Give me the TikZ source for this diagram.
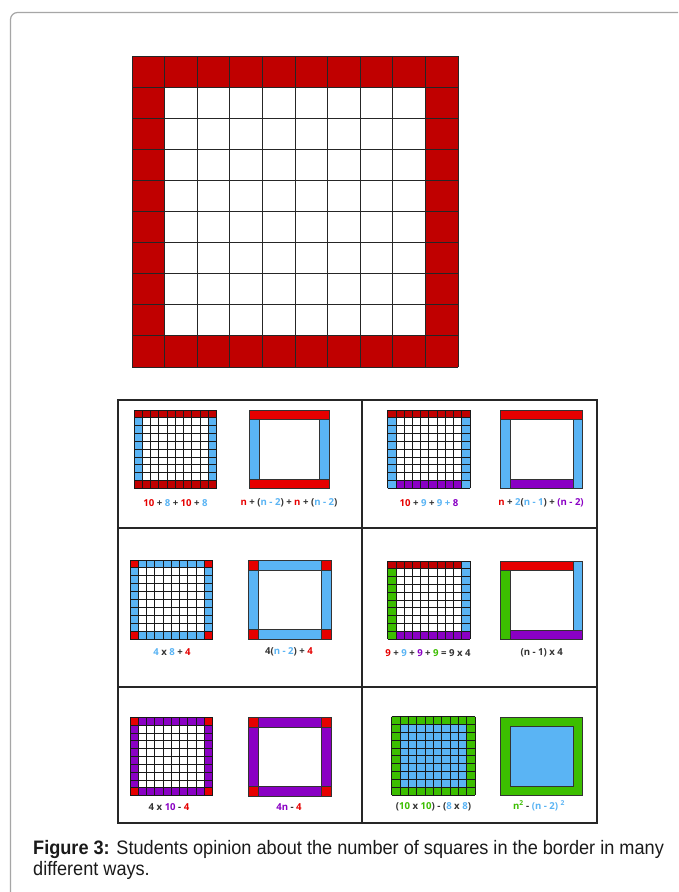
\documentclass[tikz,border=0pt]{standalone}
\usepackage{fontspec}
\setmainfont{Liberation Sans}
\newfontfamily\capfont[FakeStretch=0.93]{Liberation Sans}
\newfontfamily\lblfont{Open Sans}
\definecolor{dred}{HTML}{C00000}
\definecolor{bred}{HTML}{E60000}
\definecolor{lblue}{HTML}{5AB4F4}
\definecolor{purp}{HTML}{8A00C4}
\definecolor{grn}{HTML}{3CBE00}
\definecolor{txt}{HTML}{333333}
\definecolor{capc}{HTML}{1A1A1A}
\newcommand\cR[1]{\textcolor{bred}{#1}}
\newcommand\cB[1]{\textcolor{lblue}{#1}}
\newcommand\cP[1]{\textcolor{purp}{#1}}
\newcommand\cG[1]{\textcolor{grn}{#1}}
\newcommand\sgrid[5]{%
  \begin{scope}[shift={(#1,#2)}, x=#3pt, y=-#4pt]
    #5
    \foreach \i in {0,...,10}{\draw[sline] (\i,0) -- (\i,10); \draw[sline] (0,\i) -- (10,\i);}
  \end{scope}}
\tikzset{
  gline/.style={draw=black!85, line width=0.9pt},
  sline/.style={draw=black!90, line width=0.85pt},
  tline/.style={draw=black!85, line width=1.6pt},
  sch/.style={draw=black!80, line width=0.8pt},
  lbl/.style={font=\lblfont\bfseries\fontsize{9.6}{11}\selectfont, text=txt, inner sep=0pt},
  captxt/.style={font=\capfont\fontsize{19.5}{22}\selectfont, text=capc, anchor=base west, inner sep=0pt}
}
\begin{document}
\begin{tikzpicture}[x=1pt,y=-1pt]
\clip (0,0) rectangle (678,892);
\fill[white] (0,0) rectangle (678,892);
\draw[black!35, line width=1.2pt, rounded corners=7pt] (10.5,900) -- (10.5,12.5) -- (700,12.5);

% big grid
\begin{scope}[shift={(132,56)}, x=32.6pt, y=-31.1pt]
  \fill[dred] (0,0) rectangle (10,1) (0,9) rectangle (10,10) (0,1) rectangle (1,9) (9,1) rectangle (10,9);
  \foreach \i in {0,...,10}{\draw[gline] (\i,0) -- (\i,10); \draw[gline] (0,\i) -- (10,\i);}
\end{scope}

% table
\draw[tline] (118,400) rectangle (597,823);
\draw[tline] (362,400) -- (362,823);
\draw[tline] (118,528) -- (597,528);
\draw[tline] (118,687) -- (597,687);

% cell 1
\sgrid{134}{410}{8.25}{7.83}{%
  \fill[dred] (0,0) rectangle (10,1) (0,9) rectangle (10,10);
  \fill[lblue] (0,1) rectangle (1,9) (9,1) rectangle (10,9);}
\draw[sch, fill=bred] (249,410) rectangle (329,419);
\draw[sch, fill=bred] (249,479) rectangle (329,488);
\draw[sch, fill=lblue] (249,419) rectangle (259,479);
\draw[sch, fill=lblue] (319,419) rectangle (329,479);
\node[lbl] (l1a) at (175.5,503) {\cR{10} + \cB{8} + \cR{10} + \cB{8}};
\node[lbl] (l1b) at (289,503) {\cR{n} + (\cB{n - 2}) + \cR{n} + (\cB{n - 2})};

% cell 2
\sgrid{387.7}{410}{8.23}{7.83}{%
  \fill[dred] (0,0) rectangle (10,1);
  \fill[lblue] (0,1) rectangle (1,10) (9,1) rectangle (10,10);
  \fill[purp] (1,9) rectangle (9,10);}
\draw[sch, fill=bred] (500.7,410) rectangle (582.7,419);
\draw[sch, fill=lblue] (500.7,419) rectangle (510,488);
\draw[sch, fill=lblue] (573,419) rectangle (582.7,488);
\draw[sch, fill=purp] (510,479) rectangle (573,488);
\node[lbl] (l2a) at (429,503) {\cR{10} + \cB{9} + \cB{9 +} \cP{8}};
\node[lbl] (l2b) at (541,503) {\cR{n} + \cB{2}(\cB{n - 1}) + \cP{(n - 2)}};

% cell 3
\sgrid{130}{560}{8.27}{7.9}{%
  \fill[lblue] (0,0) rectangle (10,1) (0,9) rectangle (10,10) (0,1) rectangle (1,9) (9,1) rectangle (10,9);
  \fill[bred] (0,0) rectangle (1,1) (9,0) rectangle (10,1) (0,9) rectangle (1,10) (9,9) rectangle (10,10);}
\draw[sch, fill=lblue] (258,560) rectangle (321,570);
\draw[sch, fill=lblue] (258,629) rectangle (321,639);
\draw[sch, fill=lblue] (248,570) rectangle (258,629);
\draw[sch, fill=lblue] (321,570) rectangle (331,629);
\draw[sch, fill=bred] (248,560) rectangle (258,570);
\draw[sch, fill=bred] (321,560) rectangle (331,570);
\draw[sch, fill=bred] (248,629) rectangle (258,639);
\draw[sch, fill=bred] (321,629) rectangle (331,639);
\node[lbl] (l3a) at (172,652) {\cB{4} x \cB{8} + \cR{4}};
\node[lbl] (l3b) at (289,652) {4(\cB{n - 2}) + \cR{4}};

% cell 4
\sgrid{387.7}{561}{8.23}{7.8}{%
  \fill[dred] (0,0) rectangle (9,1);
  \fill[lblue] (9,0) rectangle (10,9);
  \fill[purp] (1,9) rectangle (10,10);
  \fill[grn] (0,1) rectangle (1,10);}
\draw[sch, fill=bred] (500.7,561) rectangle (573,570);
\draw[sch, fill=lblue] (573,561) rectangle (582.7,630);
\draw[sch, fill=grn] (500.7,570) rectangle (510,639);
\draw[sch, fill=purp] (510,630) rectangle (582.7,639);
\node[lbl] (l4a) at (428,653) {\cR{9} + \cB{9} + \cP{9} + \cG{9} = 9 x 4};
\node[lbl] (l4b) at (541.7,653) {(n - 1) x 4};

% cell 5
\sgrid{130}{717.3}{8.27}{7.84}{%
  \fill[purp] (0,0) rectangle (10,1) (0,9) rectangle (10,10) (0,1) rectangle (1,9) (9,1) rectangle (10,9);
  \fill[bred] (0,0) rectangle (1,1) (9,0) rectangle (10,1) (0,9) rectangle (1,10) (9,9) rectangle (10,10);}
\draw[sch, fill=purp] (258.3,717.3) rectangle (321,727.3);
\draw[sch, fill=purp] (258.3,786) rectangle (321,796);
\draw[sch, fill=purp] (248.3,727.3) rectangle (258.3,786);
\draw[sch, fill=purp] (321,727.3) rectangle (331,786);
\draw[sch, fill=bred] (248.3,717.3) rectangle (258.3,727.3);
\draw[sch, fill=bred] (321,717.3) rectangle (331,727.3);
\draw[sch, fill=bred] (248.3,786) rectangle (258.3,796);
\draw[sch, fill=bred] (321,786) rectangle (331,796);
\node[lbl] (l5a) at (169,807) {4 x \cP{10} - \cR{4}};
\node[lbl] (l5b) at (289,807) {\cP{4n} - \cR{4}};

% cell 6
\sgrid{391.7}{716.7}{8.33}{7.83}{%
  \fill[grn] (0,0) rectangle (10,10);
  \fill[lblue] (1,1) rectangle (9,9);}
\draw[sch, fill=grn] (500.7,717.3) rectangle (582.7,795.7);
\draw[sch, fill=lblue] (510,726.7) rectangle (573.3,786.7);
\node[lbl] (l6a) at (433.5,807) {(\cG{10} x \cG{10}) - (\cB{8} x \cB{8})};
\node[lbl] (l6b) at (539,806) {\cG{n\textsuperscript{2}} - \cB{(n - 2)} \cB{\textsuperscript{2}}};

% caption
\node[captxt] (cap1) at (33,854) {\textbf{Figure 3:} Students opinion about the number of squares in the border in many};
\node[captxt] (cap2) at (33,875) {different ways.};
\end{tikzpicture}
\end{document}
